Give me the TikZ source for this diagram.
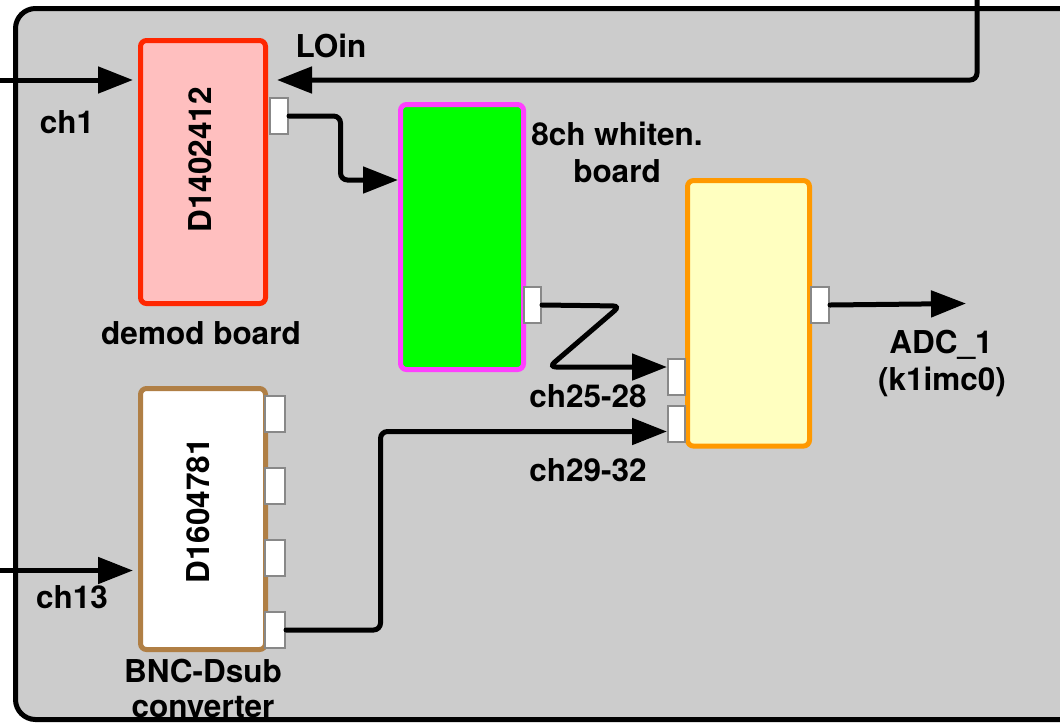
\documentclass[tikz,border=0pt]{standalone}
\usepackage{fontspec}
\setmainfont{TeX Gyre Heros}
\usetikzlibrary{arrows.meta}
\definecolor{bggray}{HTML}{CCCCCC}
\definecolor{redfill}{HTML}{FFBFBF}
\definecolor{reddraw}{HTML}{FF2600}
\definecolor{greenfill}{HTML}{00FF00}
\definecolor{magdraw}{HTML}{FF40FF}
\definecolor{yelfill}{HTML}{FFFFC0}
\definecolor{orgdraw}{HTML}{FF9900}
\definecolor{browndraw}{HTML}{B07F45}
\definecolor{portgray}{HTML}{888888}
\begin{document}
\begin{tikzpicture}[x=1pt,y=-1pt,
  box/.style={draw, line width=5pt, rounded corners=6pt, inner sep=0pt},
  port/.style={draw=portgray, fill=white, line width=2pt, inner sep=0pt, minimum width=18pt, minimum height=36pt},
  conn/.style={line width=5pt, rounded corners=7pt, line cap=round, -{Triangle[length=35pt,width=26pt]}},
  lbl/.style={font=\fontsize{31.5}{37}\selectfont\bfseries, inner sep=0pt, anchor=base},
  rlbl/.style={font=\fontsize{31.5}{37}\selectfont\bfseries, inner sep=0pt, rotate=90}]
\useasboundingbox (0,0) rectangle (1060,724);
\clip (0,0) rectangle (1060,724);
% outer enclosure
\draw[line width=5pt, fill=bggray, rounded corners=20pt] (15.5,8.5) rectangle (1120,719.5);

% boxes
\node[box, draw=reddraw, fill=redfill, minimum width=125pt, minimum height=263pt] (red) at (203,172) {};
\node[box, draw=magdraw, fill=greenfill, minimum width=123pt, minimum height=265pt] (green) at (462,237) {};
\node[box, draw=orgdraw, fill=yelfill, minimum width=122pt, minimum height=265.5pt] (yel) at (748.5,313.3) {};
\node[box, draw=browndraw, fill=white, minimum width=125pt, minimum height=261pt] (white) at (203,519) {};

\node[rlbl] (redname) at (200,160) {D1402412};
\node[rlbl] (whitename) at (198,511) {D1604781};

% ports
\node[port] (redport) at (279,116) {};
\node[port, minimum width=17pt] (greenport) at (532.5,305) {};
\node[port] (yrport) at (820,305) {};
\node[port, minimum width=17pt] (ylport1) at (676.5,377) {};
\node[port, minimum width=17pt] (ylport2) at (676.5,424) {};
\node[port, minimum width=20pt] (wport1) at (275,414) {};
\node[port, minimum width=20pt] (wport2) at (275,486) {};
\node[port, minimum width=20pt] (wport3) at (275,558) {};
\node[port, minimum width=20pt] (wport4) at (275,630) {};

% connectors
\coordinate (ch1in) at (-10,80);
\coordinate (lotop) at (977,-10);
\coordinate (ch13in) at (-10,570.5);
\coordinate (adcout) at (966,303.5);
\draw[conn, shorten >=5pt] (ch1in) -- (red.west |- ch1in);
\draw[conn, shorten >=9pt] (lotop) |- (red.east |- ch1in);
\draw[conn, shorten >=5pt] (ch13in) -- (white.west |- ch13in);
\draw[conn] (redport.east) -| (340.5,180) -- (green.west |- 0,180);
\draw[conn] (greenport.east) -- (620,306) -- (549,367) -- (ylport1.west |- 0,367);
\draw[conn] (wport4.east) -| (380.5,431.5) -- (ylport2.west |- 0,431.5);
\draw[conn] (yrport.east) -- (adcout);

% labels
\node[lbl] (lch1) at (67,133) {ch1};
\node[lbl] (lloin) at (331,57) {LOin};
\node[lbl] (ldemod) at (201,344) {demod board};
\node[lbl] (lwhit1) at (617,145) {8ch whiten.};
\node[lbl] (lwhit2) at (617,182) {board};
\node[lbl] (lch2528) at (588,407) {ch25-28};
\node[lbl] (lch2932) at (588,481) {ch29-32};
\node[lbl] (ladc1) at (941,353) {ADC\_1};
\node[lbl] (ladc2) at (942,390) {(k1imc0)};
\node[lbl] (lch13) at (72,608) {ch13};
\node[lbl] (lbnc1) at (203,682) {BNC-Dsub};
\node[lbl] (lbnc2) at (203,717) {converter};
\end{tikzpicture}
\end{document}
